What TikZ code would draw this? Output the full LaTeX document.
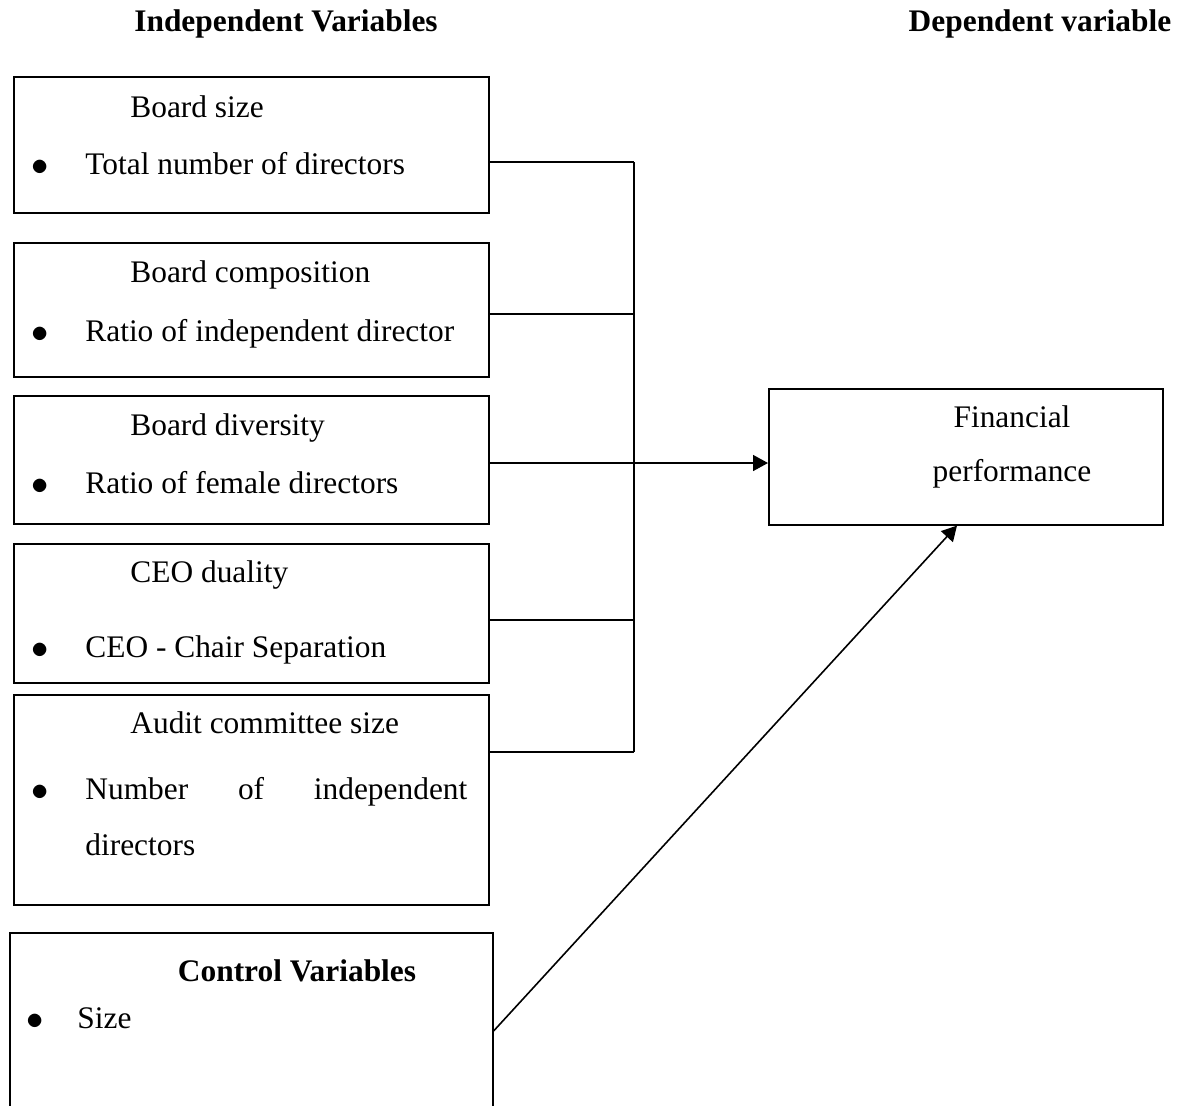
\documentclass[tikz,border=0pt]{standalone}
\usepackage{fontspec}
\setmainfont{Liberation Serif}
\usetikzlibrary{arrows.meta}
\tikzset{
  varbox/.style={draw, line width=0.8pt, anchor=north west, inner sep=0pt, minimum width=237.5pt},
  txt/.style={anchor=base west, inner sep=0pt, font=\fontsize{15.7}{19}\selectfont},
  head/.style={anchor=base, inner sep=0pt, font=\fontsize{15.7}{19}\selectfont\bfseries},
  link/.style={line width=0.8pt},
  arr/.style={line width=0.8pt, -{Triangle[length=7.5pt,width=8pt]}}
}
\newcommand{\itm}[2][27pt]{\makebox[#1][l]{\raisebox{-0.6pt}{\fontsize{17.5}{17.5}\selectfont$\bullet$}}#2}

\begin{document}
\begin{tikzpicture}[x=0.5pt, y=-0.5pt]
\useasboundingbox (0,0) rectangle (1179,1105);
% headings
\node[head] (hind) at (286,31) {Independent Variables};
\node[head] (hdep) at (1040,31) {Dependent variable};
% independent variables
\node[varbox, minimum height=68pt] (bsize) at (13,76) {};
\node[txt] (bsizet) at (130,117) {Board size};
\node[txt] (bsizei) at (31,174) {\itm{Total number of directors}};
\node[varbox, minimum height=67pt] (bcomp) at (13,242) {};
\node[txt] (bcompt) at (130,282) {Board composition};
\node[txt] (bcompi) at (31,341) {\itm{Ratio of independent director}};
\node[varbox, minimum height=64pt] (bdiv) at (13,395) {};
\node[txt] (bdivt) at (130,435) {Board diversity};
\node[txt] (bdivi) at (31,493) {\itm{Ratio of female directors}};
\node[varbox, minimum height=69.5pt] (ceo) at (13,543) {};
\node[txt] (ceot) at (130,582) {CEO duality};
\node[txt] (ceoi) at (31,657) {\itm{CEO - Chair Separation}};
\node[varbox, minimum height=105pt] (audit) at (13,694) {};
\node[txt] (auditt) at (130,733) {Audit committee size};
\node[txt, text width=191pt, align=left, font=\fontsize{15.7}{28}\selectfont]
  (auditi) at (85,799) {\llap{\itm{}}Number\hfill of\hfill independent\\directors};
% control variables
\node[varbox, minimum width=241.5pt, minimum height=94pt] (ctrl) at (9,932) {};
\node[head] (ctrlt) at (297,981) {Control Variables};
\node[txt] (ctrli) at (26,1028) {\itm[25.5pt]{Size}};
% dependent variable
\node[varbox, minimum width=197pt, minimum height=68pt] (fin) at (768,388) {};
\node[txt, anchor=base, align=center, font=\fontsize{15.7}{27}\selectfont]
  (fint) at (1012,481) {Financial\\performance};
% connectors
\coordinate (j1) at (634,162);
\coordinate (j2) at (634,314);
\coordinate (j3) at (634,463);
\coordinate (j4) at (634,620);
\coordinate (j5) at (634,752);
\draw[link] (bsize.east |- j1) -- (j1);
\draw[link] (bcomp.east |- j2) -- (j2);
\draw[link] (ceo.east |- j4) -- (j4);
\draw[link] (audit.east |- j5) -- (j5);
\draw[link] (j1) -- (j5);
\draw[arr] (bdiv.east |- j3) -- (fin.west |- j3);
\coordinate (c0) at (493,1031);
\coordinate (f0) at (957,527);
\draw[arr] (ctrl.east |- c0) -- (fin.south -| f0);
\end{tikzpicture}
\end{document}
